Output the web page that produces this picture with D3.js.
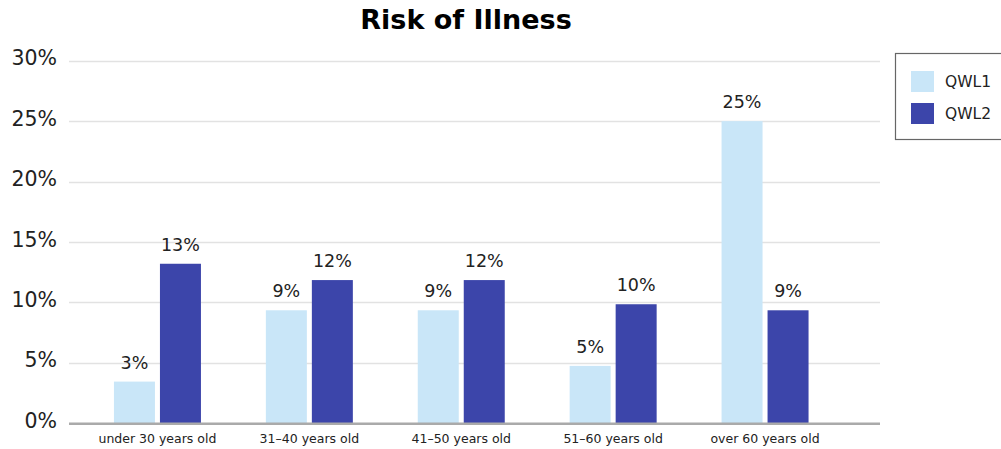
<!DOCTYPE html>
<html><head><meta charset="utf-8">
<script src="https://cdn.jsdelivr.net/npm/d3@7"></script>
<style>body{margin:0;background:#fff;}svg{display:block;font-family:"DejaVu Sans",sans-serif;}</style>
</head><body>
<svg id="c" width="1001" height="449"></svg>
<script>
const categories = ["under 30 years old","31–40 years old","41–50 years old","51–60 years old","over 60 years old"];
const seriesNames = ["QWL1","QWL2"];
const qwl1 = [3.45, 9.35, 9.35, 4.75, 25.0];
const qwl2 = [13.2, 11.85, 11.85, 9.85, 9.35];
const yTicks = [0,5,10,15,20,25,30];
const colors = ["#c9e6f8","#3c45aa"];

const svg = d3.select("#c");
const x = d3.scaleBand().domain(categories).range([81.5, 841]).paddingInner(0).paddingOuter(0);
const bw = x.bandwidth(), gw = 87;
const x1 = d3.scaleBand().domain(seriesNames).range([(bw-gw)/2, (bw+gw)/2]).paddingInner(5/46).paddingOuter(0);
const y = d3.scaleLinear().domain([0,30]).range([423.3, 60.7]);

// title
svg.append("text").attr("x",466).attr("y",29).attr("text-anchor","middle")
  .attr("font-size",27).attr("font-weight","bold").attr("fill","#000").text("Risk of Illness");

// grid
const gx0 = 69, gx1 = 880;
svg.append("g").selectAll("line").data(yTicks.filter(t=>t>0)).join("line")
  .attr("x1",gx0).attr("x2",gx1).attr("y1",d=>Math.round(y(d))+0.5).attr("y2",d=>Math.round(y(d))+0.5)
  .attr("stroke","#e2e2e2").attr("stroke-width",1.5);

// y axis labels
const yAxis = d3.axisLeft(y).tickValues(yTicks).tickFormat(d=>d+"%").tickSize(0).tickPadding(0);
const ya = svg.append("g").attr("transform","translate(57,0)").call(yAxis);
ya.select(".domain").remove();
ya.selectAll("text").attr("font-size",20.5).attr("font-family","DejaVu Sans, sans-serif").attr("fill","#222").attr("dy","0.2em");

// bars
const data = categories.map((c,i)=>({cat:c, vals:[{s:"QWL1",v:qwl1[i]},{s:"QWL2",v:qwl2[i]}]}));
const groups = svg.append("g").selectAll("g").data(data).join("g").attr("transform",d=>`translate(${x(d.cat)},0)`);
groups.selectAll("rect").data(d=>d.vals).join("rect")
  .attr("x",d=>x1(d.s)).attr("width",x1.bandwidth())
  .attr("y",d=>y(d.v)).attr("height",d=>y(0)-y(d.v))
  .attr("fill",(d,i)=>colors[i]);
groups.selectAll("text").data(d=>d.vals).join("text")
  .attr("x",d=>x1(d.s)+x1.bandwidth()/2).attr("y",d=>y(d.v)-13)
  .attr("text-anchor","middle").attr("font-size",17.5).attr("fill","#222")
  .text(d=>Math.round(d.v)+"%");

// baseline
svg.append("line").attr("x1",gx0).attr("x2",gx1).attr("y1",y(0)+0.5).attr("y2",y(0)+0.5)
  .attr("stroke","#aaaaaa").attr("stroke-width",2.5);

// x axis labels
const xAxis = d3.axisBottom(x).tickSize(0).tickPadding(0);
const xa = svg.append("g").attr("transform","translate(0,443)").call(xAxis);
xa.select(".domain").remove();
xa.selectAll("text").attr("font-size",12.5).attr("font-family","DejaVu Sans, sans-serif").attr("fill","#222").attr("dy","0");

// legend
const lg = svg.append("g");
lg.append("rect").attr("x",895.5).attr("y",53.5).attr("width",120).attr("height",86)
  .attr("fill","#fff").attr("stroke","#666").attr("stroke-width",1.2);
const li = lg.selectAll("g").data(seriesNames).join("g").attr("transform",(d,i)=>`translate(911,${71+i*32})`);
li.append("rect").attr("width",23).attr("height",21).attr("fill",(d,i)=>colors[i]);
li.append("text").attr("x",34).attr("y",16).attr("font-size",15.5).attr("fill","#222").text(d=>d);
</script>
</body></html>
